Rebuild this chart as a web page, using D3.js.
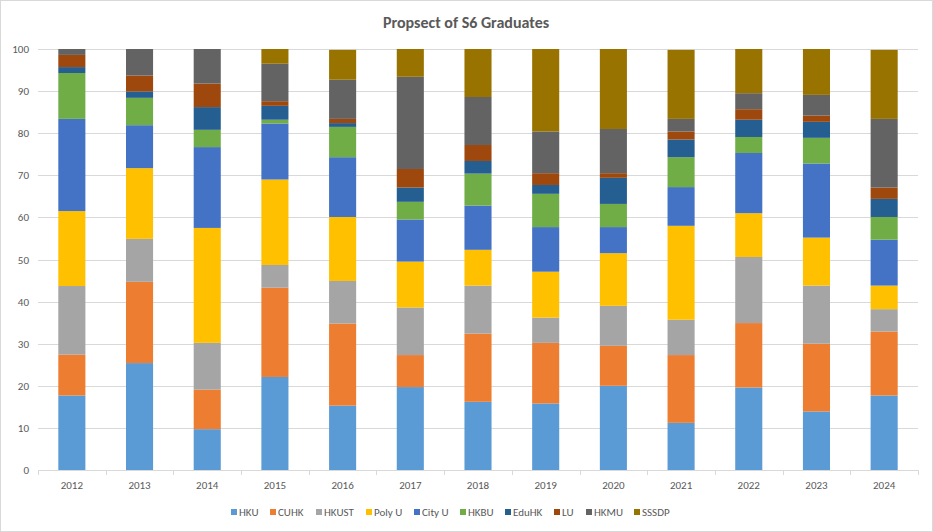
<!DOCTYPE html>
<html><head><meta charset="utf-8">
<script src="https://cdn.jsdelivr.net/npm/d3@7"></script>
<style>body{margin:0;background:#fff}svg{display:block}</style>
</head><body><svg id="c" width="933" height="532"></svg>
<script>
const years = ["2012","2013","2014","2015","2016","2017","2018","2019","2020","2021","2022","2023","2024"];
const seriesNames = ["HKU","CUHK","HKUST","Poly U","City U","HKBU","EduHK","LU","HKMU","SSSDP"];
const HKU    = [17.7,25.4, 9.7,22.1,15.3,19.7,16.2,15.8,20.0,11.2,19.6,13.9,17.7];
const CUHK   = [ 9.7,19.3, 9.4,21.2,19.5, 7.6,16.2,14.4, 9.5,16.1,15.3,16.1,15.2];
const HKUST  = [16.3,10.2,11.1, 5.4,10.1,11.3,11.4, 6.0, 9.5, 8.4,15.7,13.8, 5.3];
const PolyU  = [17.8,16.8,27.3,20.3,15.2,10.9, 8.5,10.9,12.5,22.3,10.4,11.4, 5.6];
const CityU  = [21.9,10.2,19.2,13.3,14.2,10.0,10.5,10.6, 6.2, 9.2,14.3,17.6,10.9];
const HKBU   = [10.9, 6.5, 4.1, 0.9, 7.2, 4.2, 7.6, 7.9, 5.5, 7.1, 3.8, 6.1, 5.4];
const EduHK  = [ 1.4, 1.5, 5.4, 3.3, 0.9, 3.4, 3.0, 2.1, 6.2, 4.2, 4.1, 3.8, 4.3];
const LU     = [ 2.9, 3.8, 5.6, 1.1, 1.0, 4.4, 3.8, 2.8, 1.1, 1.9, 2.5, 1.5, 2.7];
const HKMU   = [ 1.4, 6.3, 8.2, 8.9, 9.3,21.9,11.4, 9.9,10.5, 3.0, 3.8, 4.9,16.3];
const SSSDP  = [ 0.0, 0.0, 0.0, 3.5, 7.1, 6.6,11.4,19.6,19.0,16.4,10.5,10.9,16.4];
const yTicks = [0,10,20,30,40,50,60,70,80,90,100];
const colors = ["#5B9BD5","#ED7D31","#A5A5A5","#FFC000","#4472C4","#70AD47","#255E91","#9E480E","#636363","#997300"];
const title = "Propsect of S6 Graduates";

const allSeries = [HKU,CUHK,HKUST,PolyU,CityU,HKBU,EduHK,LU,HKMU,SSSDP];
const rows = years.map((y,i)=>{const r={year:y}; seriesNames.forEach((s,j)=>r[s]=allSeries[j][i]); return r;});
const stack = d3.stack().keys(seriesNames)(rows);

const svg = d3.select("#c");
const font = "Calibri, Carlito, 'Liberation Sans', Arial, sans-serif";
svg.append("rect").attr("x",0.5).attr("y",0.5).attr("width",932).attr("height",531).attr("fill","#fff").attr("stroke","#d9d9d9");

const L=38,R=918,T=49,B=470;
const x = d3.scaleBand().domain(years).range([L,R]).paddingInner(0.6).paddingOuter(0.3);
const y = d3.scaleLinear().domain([0,100]).range([B,T]);

// gridlines
svg.append("g").selectAll("line").data(yTicks.filter(t=>t>0)).join("line")
  .attr("x1",L).attr("x2",R).attr("y1",d=>Math.round(y(d))+0.5).attr("y2",d=>Math.round(y(d))+0.5)
  .attr("stroke","#d9d9d9").attr("stroke-width",1);

// bars
svg.append("g").selectAll("g").data(stack).join("g").attr("fill",(d,i)=>colors[i])
  .selectAll("rect").data(d=>d).join("rect")
  .attr("x",d=>x(d.data.year)).attr("width",x.bandwidth())
  .attr("y",d=>y(d[1])).attr("height",d=>Math.max(0,y(d[0])-y(d[1])));

// y axis
const ya = svg.append("g").attr("transform",`translate(${L},0)`).call(d3.axisLeft(y).tickValues(yTicks).tickSize(0).tickPadding(9));
ya.select(".domain").remove();
ya.selectAll("text").attr("font-family",font).attr("font-size",11).attr("fill","#595959");

// x axis
const step = x.step();
const xa = svg.append("g").attr("transform",`translate(0,${B})`).call(d3.axisBottom(x).tickSize(0).tickPadding(11));
xa.select(".domain").attr("stroke","#d9d9d9");
xa.selectAll("text").attr("font-family",font).attr("font-size",11).attr("fill","#595959");
xa.append("g").selectAll("line").data(d3.range(years.length+1)).join("line")
  .attr("x1",i=>Math.round(L+i*step)+0.5).attr("x2",i=>Math.round(L+i*step)+0.5)
  .attr("y1",0).attr("y2",5).attr("stroke","#d9d9d9");

// title
svg.append("text").attr("x",466).attr("y",28).attr("text-anchor","middle")
  .attr("font-family",font).attr("font-weight","bold").attr("font-size",16).attr("fill","#595959").text(title);

// legend
const legX = [231,270,316,366,414,460,505,554,586,634];
const lg = svg.append("g").selectAll("g").data(seriesNames).join("g")
  .attr("transform",(d,i)=>`translate(${legX[i]},512)`);
lg.append("rect").attr("x",0).attr("y",-3).attr("width",6).attr("height",6).attr("fill",(d,i)=>colors[i]);
lg.append("text").attr("x",8).attr("y",4).attr("font-family",font).attr("font-size",11).attr("fill","#595959").text(d=>d);
</script></body></html>
